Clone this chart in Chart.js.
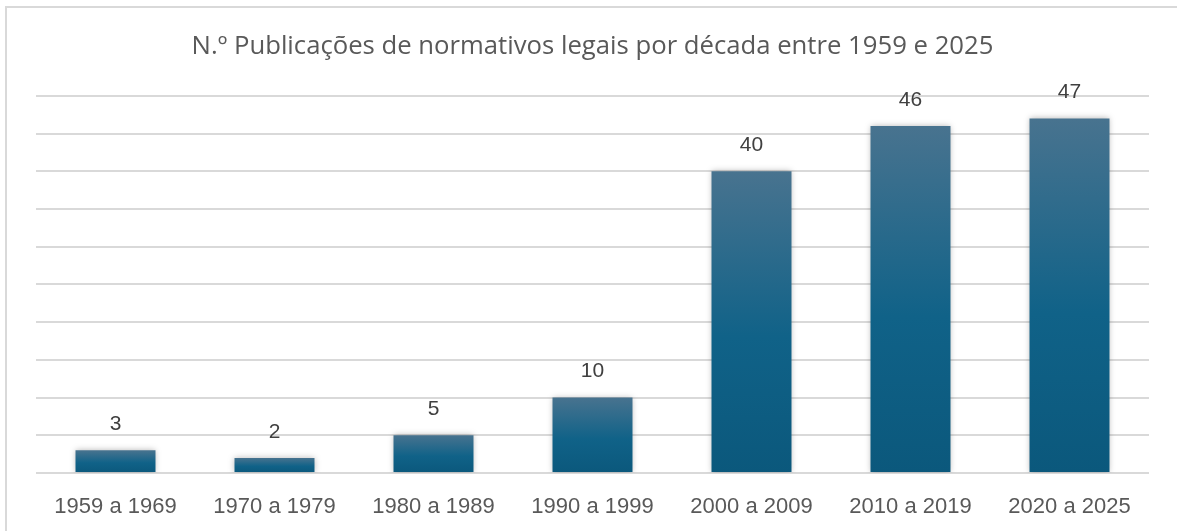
<!DOCTYPE html>
<html>
<head>
<meta charset="utf-8">
<script src="https://cdn.jsdelivr.net/npm/chart.js@4.4.1/dist/chart.umd.min.js"></script>
<style>
  html, body { margin: 0; padding: 0; background: #ffffff; overflow: hidden; }
  #wrap { position: relative; width: 1177px; height: 531px; }
  #frame { position: absolute; left: 5px; top: 6px; width: 1300px; height: 700px;
           border-top: 2px solid #d9d9d9; border-left: 2px solid #d9d9d9; pointer-events: none; }
  canvas { position: absolute; left: 0; top: 0; }
</style>
</head>
<body>
<div id="wrap">
  <canvas id="c" width="1177" height="531"></canvas>
  <div id="frame"></div>
</div>
<script>
const chartTitle = "N.º Publicações de normativos legais por década entre 1959 e 2025";
const categories = ["1959 a 1969", "1970 a 1979", "1980 a 1989", "1990 a 1999", "2000 a 2009", "2010 a 2019", "2020 a 2025"];
const publications = [3, 2, 5, 10, 40, 46, 47];
const yMin = 0;
const yMax = 50;
const yStep = 5;

const TITLE_FONT = "'Open Sans', 'Noto Sans', sans-serif";
const FONT = "'Liberation Sans', Arial, sans-serif";

function barGradient(context) {
  const chart = context.chart;
  if (!chart.chartArea) return '#0f6287';
  const ys = chart.scales.y;
  const top = ys.getPixelForValue(context.raw);
  const bot = ys.getPixelForValue(0);
  const g = chart.ctx.createLinearGradient(0, top, 0, bot);
  g.addColorStop(0, '#48738f');
  g.addColorStop(0.55, '#106288');
  g.addColorStop(1, '#0b587c');
  return g;
}

const shadowPlugin = {
  id: 'barShadow',
  beforeDatasetsDraw(chart) {
    const ctx = chart.ctx;
    ctx.save();
    ctx.shadowColor = 'rgba(0,0,0,0.28)';
    ctx.shadowBlur = 6;
    ctx.shadowOffsetX = 0;
    ctx.shadowOffsetY = 0;
  },
  afterDatasetsDraw(chart) {
    chart.ctx.restore();
  }
};

const labelPlugin = {
  id: 'valueLabels',
  afterDraw(chart) {
    const ctx = chart.ctx;
    const meta = chart.getDatasetMeta(0);
    ctx.save();
    ctx.font = "21px " + FONT;
    ctx.fillStyle = '#404040';
    ctx.textAlign = 'center';
    ctx.textBaseline = 'middle';
    meta.data.forEach((el, i) => {
      ctx.fillText(String(chart.data.datasets[0].data[i]), el.x, el.y - 26);
    });
    ctx.restore();
  }
};

new Chart(document.getElementById('c'), {
  type: 'bar',
  data: {
    labels: categories,
    datasets: [{
      data: publications,
      backgroundColor: barGradient,
      borderWidth: 0,
      barPercentage: 1,
      categoryPercentage: 0.503
    }]
  },
  options: {
    responsive: false,
    animation: false,
    devicePixelRatio: 1,
    layout: { padding: { left: 36, right: 28, top: 0, bottom: 0 } },
    plugins: {
      legend: { display: false },
      tooltip: { enabled: false },
      title: {
        display: true,
        text: chartTitle,
        color: '#595959',
        font: { family: TITLE_FONT, size: 25.7, weight: 'normal' },
        padding: { top: 31, bottom: 34 }
      }
    },
    scales: {
      x: {
        grid: { display: false },
        border: { display: false },
        ticks: {
          color: '#595959',
          font: { family: FONT, size: 22 },
          padding: 13,
          maxRotation: 0
        },
        afterFit(s) { s.height = 58; }
      },
      y: {
        min: yMin,
        max: yMax,
        ticks: { display: false, stepSize: yStep },
        border: { display: false },
        grid: { color: '#d9d9d9', lineWidth: 2, drawTicks: false },
        afterFit(s) { s.width = 0; }
      }
    }
  },
  plugins: [shadowPlugin, labelPlugin]
});
</script>
</body>
</html>
